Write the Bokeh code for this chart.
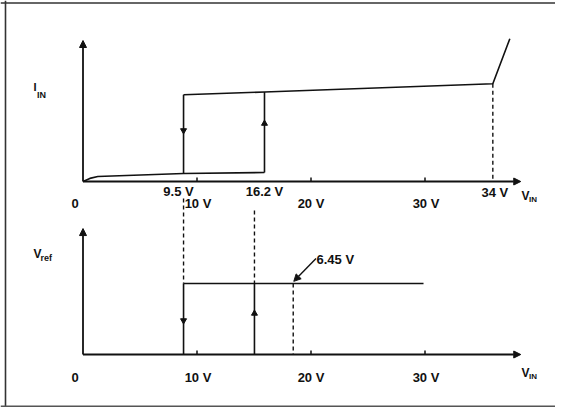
from bokeh.plotting import figure
from bokeh.models import Range1d, Arrow, NormalHead, Span
from bokeh.core.properties import value
from bokeh.embed import file_html
from bokeh.resources import INLINE

# ---------------- data (schematic) ----------------
# x axis: input voltage V_IN in volts (positions as drawn)
vin_ticks = [0, 10, 20, 30]
vin_tick_labels = ["0", "10 V", "20 V", "30 V"]
vin_axis_end = 38.4

# switching thresholds (labels and drawn positions)
threshold_labels = ["9.5 V", "16.2 V", "34 V"]
threshold_pos = [8.82, 15.92, 35.95]
threshold_label_dx = [-5, 0, 2]

# I_IN, relative units
iin_off_x = [0, 0.6, 1.3, 8.82, 15.92]
iin_off_y = [0, 0.022, 0.035, 0.057, 0.064]
iin_on_x = [8.82, 15.92, 35.95, 37.44]
iin_on_y = [0.615, 0.635, 0.693, 1.012]
iin_axis_top = 1.0
iin_arrow_down = 0.362
iin_arrow_up = 0.411

# V_ref, volts
vref_off_pos = 8.82
vref_on_pos = 15.04
vref_level_pos = 18.44
vref_end = 29.87
vref_level = 6.45
vref_label = "6.45 V"
vref_axis_top = 11.45
vref_arrow_down = 3.09
vref_arrow_up = 3.73

# ---------------- figure ----------------
W, H = 555, 407
PX_X = 11.4     # px per volt
PX_I = 141.0    # px per I_IN unit
PX_V = 11.0     # px per V_ref volt
origin_x = 82.5
base_top = 181.0
base_bot = 354.0

xr = Range1d((0 - origin_x) / PX_X, (W - origin_x) / PX_X)
yr = Range1d((base_top - H) / PX_I, base_top / PX_I)
yr_ref = Range1d((base_bot - H) / PX_V, base_bot / PX_V)

p = figure(width=W, height=H, x_range=xr, y_range=yr, output_backend="svg",
           toolbar_location=None, min_border=0, outline_line_color=None,
           background_fill_color="white", border_fill_color="white")
p.extra_y_ranges = {"ref": yr_ref}
p.xaxis.visible = False
p.yaxis.visible = False
p.grid.visible = False

INK = "#111111"
FONT = value("Liberation Sans")

# outer frame (left, top, bottom)
p.add_layout(Span(location=(5 - origin_x) / PX_X, dimension="height",
                  line_color="#333333", line_width=1.6))
p.add_layout(Span(location=(base_top - 2.5) / PX_I, dimension="width",
                  line_color="#333333", line_width=1.6))
p.add_layout(Span(location=(base_top - (H - 1.2)) / PX_I, dimension="width",
                  line_color="#555555", line_width=1.6))

def axis_arrows(y_top, rname, tick_h):
    kw = {} if rname is None else {"y_range_name": rname}
    p.add_layout(Arrow(end=NormalHead(size=7, fill_color=INK, line_color=INK),
                       x_start=0, y_start=0, x_end=vin_axis_end, y_end=0,
                       line_color=INK, line_width=1.8, **kw))
    p.add_layout(Arrow(end=NormalHead(size=7, fill_color=INK, line_color=INK),
                       x_start=0, y_start=0, x_end=0, y_end=y_top,
                       line_color=INK, line_width=1.8, **kw))
    tx = vin_ticks[1:]
    p.segment(x0=tx, y0=[0] * len(tx), x1=tx, y1=[tick_h] * len(tx),
              line_color=INK, line_width=1.5, **kw)

# ---- top panel: I_IN ----
axis_arrows(iin_axis_top, None, 4 / PX_I)
p.line(iin_off_x, iin_off_y, line_color=INK, line_width=1.6)
p.line(iin_on_x, iin_on_y, line_color=INK, line_width=1.6)
p.segment(x0=[iin_on_x[0], iin_on_x[1]], y0=[iin_on_y[0], iin_off_y[-1]],
          x1=[iin_off_x[3], iin_off_x[4]], y1=[iin_off_y[3], iin_on_y[1]],
          line_color=INK, line_width=1.6)
p.scatter([iin_on_x[0]], [iin_arrow_down], marker="inverted_triangle", size=6,
          fill_color=INK, line_color=INK)
p.scatter([iin_on_x[1]], [iin_arrow_up], marker="triangle", size=6,
          fill_color=INK, line_color=INK)
p.segment(x0=[threshold_pos[2]], y0=[iin_on_y[2]], x1=[threshold_pos[2]], y1=[0],
          line_color=INK, line_width=1.4, line_dash="4 3")

# ---- bottom panel: V_ref ----
axis_arrows(vref_axis_top, "ref", 4 / PX_V)
p.line([vref_off_pos, vref_end], [vref_level, vref_level], line_color=INK,
       line_width=1.6, y_range_name="ref")
p.segment(x0=[vref_off_pos, vref_on_pos], y0=[vref_level, 0],
          x1=[vref_off_pos, vref_on_pos], y1=[0, vref_level],
          line_color=INK, line_width=1.6, y_range_name="ref")
p.scatter([vref_off_pos], [vref_arrow_down], marker="inverted_triangle", size=6,
          fill_color=INK, line_color=INK, y_range_name="ref")
p.scatter([vref_on_pos], [vref_arrow_up], marker="triangle", size=6,
          fill_color=INK, line_color=INK, y_range_name="ref")
# projections between the panels
p.segment(x0=[vref_off_pos, vref_on_pos, vref_level_pos],
          y0=[(base_bot - 198) / PX_V, (base_bot - 210) / PX_V, vref_level],
          x1=[vref_off_pos, vref_on_pos, vref_level_pos],
          y1=[vref_level, vref_level, 0],
          line_color=INK, line_width=1.4, line_dash="4 3", y_range_name="ref")
p.add_layout(Arrow(end=NormalHead(size=7, fill_color=INK, line_color=INK),
                   x_start=vref_level_pos + 2.0, y_start=vref_level + 2.28,
                   x_end=vref_level_pos + 0.05, y_end=vref_level + 0.2,
                   line_color=INK, line_width=1.4, y_range_name="ref"))

# ---------------- texts ----------------
def txt(x, y, t, size, align="center", rname=None, dx=0):
    kw = {} if rname is None else {"y_range_name": rname}
    p.text(x=x, y=y, text=t, x_offset=dx, text_font=FONT, text_font_style="bold",
           text_font_size=size, text_align=align, text_baseline="middle",
           text_color=INK, **kw)

tick_dx = [-8, 1, 0, 1]
txt(vin_ticks, [-22 / PX_I] * 4, vin_tick_labels, "13px", dx=tick_dx)
txt(vin_ticks, [-22.5 / PX_V] * 4, vin_tick_labels, "13px", rname="ref", dx=tick_dx)
txt(threshold_pos, [-10 / PX_I, -10 / PX_I, -11 / PX_I], threshold_labels, "13px",
    dx=threshold_label_dx)

# axis titles with subscripts
vx = (521 - origin_x) / PX_X
txt([vx], [-14 / PX_I], ["V"], "12px", align="left")
txt([vx + 7.5 / PX_X], [-18 / PX_I], ["IN"], "8px", align="left")
txt([vx], [-18.5 / PX_V], ["V"], "12px", align="left", rname="ref")
txt([vx + 7.5 / PX_X], [-21.5 / PX_V], ["IN"], "8px", align="left", rname="ref")

lx = (33 - origin_x) / PX_X
txt([lx], [95 / PX_I], ["I"], "11px", align="left")
txt([lx + 3.5 / PX_X], [87 / PX_I], ["IN"], "9px", align="left")
txt([lx], [100.5 / PX_V], ["V"], "12px", align="left", rname="ref")
txt([lx + 7 / PX_X], [96.5 / PX_V], ["ref"], "9px", align="left", rname="ref")

txt([(316 - origin_x) / PX_X], [95.5 / PX_V], [vref_label], "13px", align="left",
    rname="ref")

open("out.html", "w").write(file_html(p, INLINE))
